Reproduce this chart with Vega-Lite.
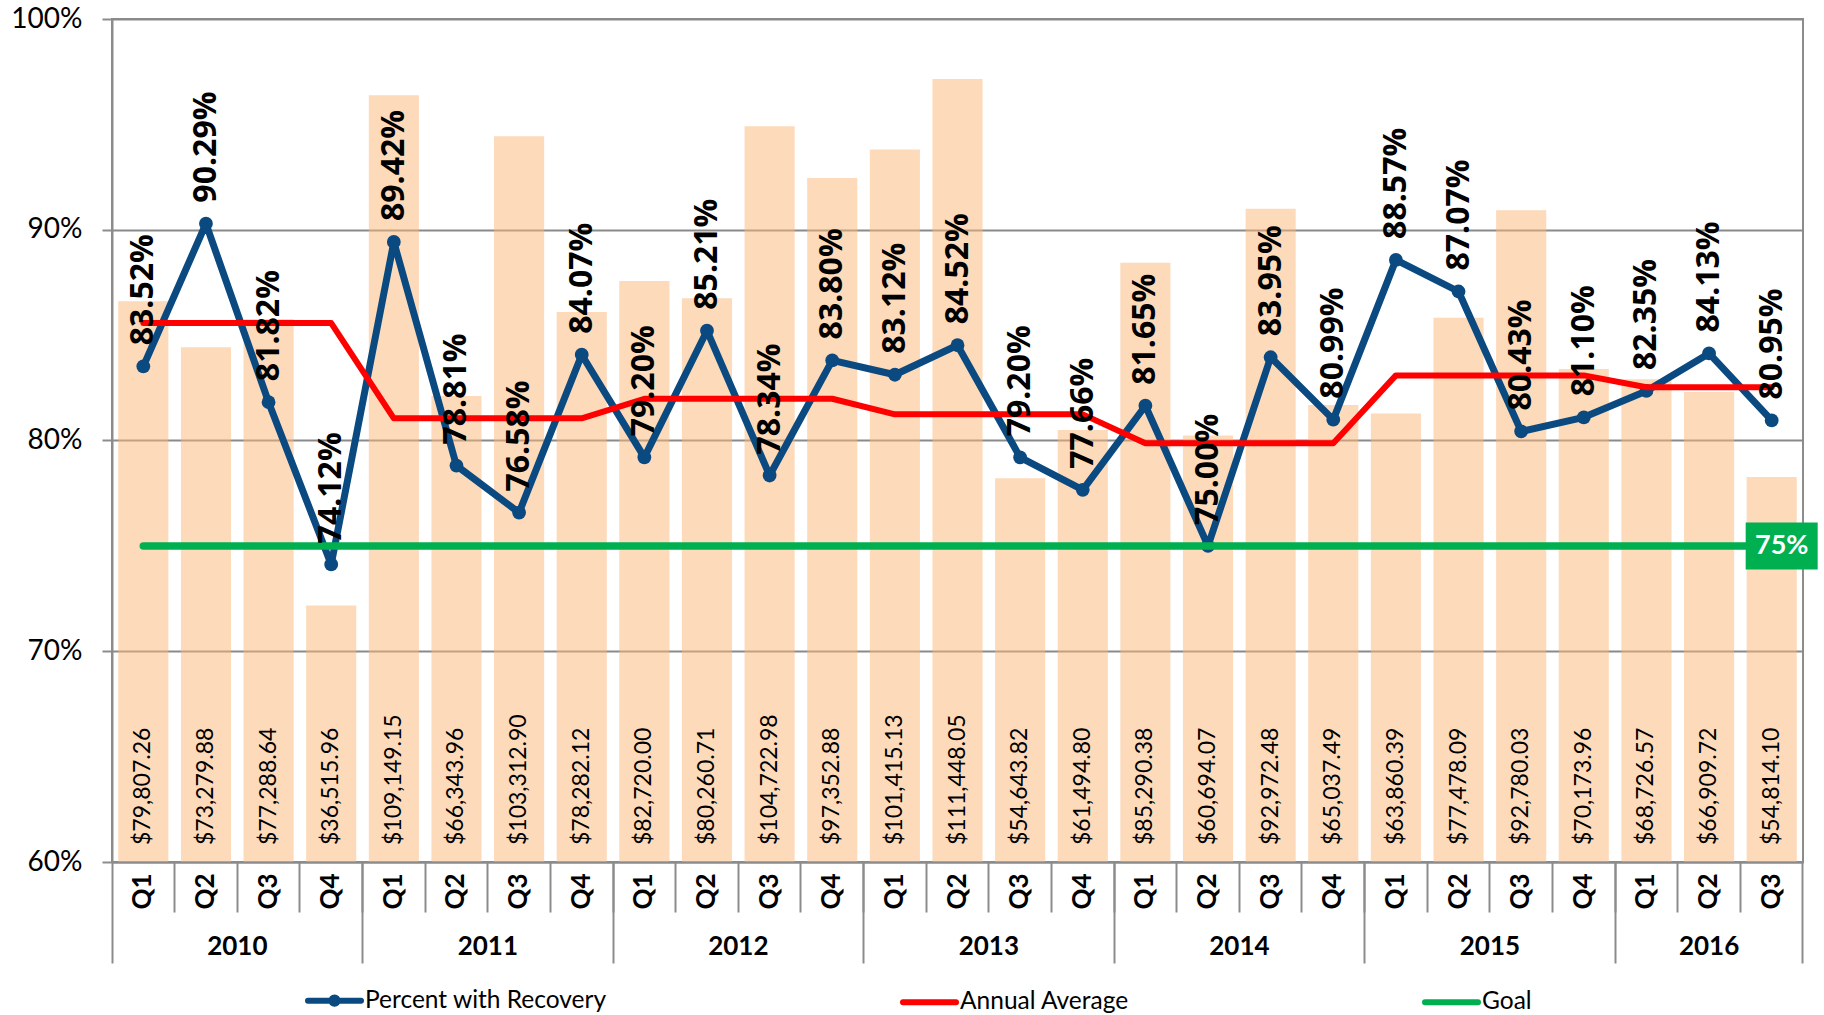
{
  "$schema": "https://vega.github.io/schema/vega-lite/v6.json",
  "width": 1691,
  "height": 843,
  "autosize": {"type": "none"},
  "padding": {"left": 112, "top": 19, "right": 21, "bottom": 153},
  "config": {
    "font": "Lato",
    "view": {"stroke": "#8c8c8c", "strokeWidth": 2},
    "axis": {
      "domainColor": "#8c8c8c", "domainWidth": 2,
      "tickColor": "#8c8c8c", "tickWidth": 2,
      "gridColor": "#8a8a8a", "gridWidth": 2,
      "labelColor": "#000000", "labelFont": "Lato"
    }
  },
  "datasets": {
    "main": [
      {"period": "2010 Q1", "amount": 79807.26, "pct": 0.8352, "avg": 0.8557, "goal": 0.75},
      {"period": "2010 Q2", "amount": 73279.88, "pct": 0.9029, "avg": 0.8557, "goal": 0.75},
      {"period": "2010 Q3", "amount": 77288.64, "pct": 0.8182, "avg": 0.8557, "goal": 0.75},
      {"period": "2010 Q4", "amount": 36515.96, "pct": 0.7412, "avg": 0.8557, "goal": 0.75},
      {"period": "2011 Q1", "amount": 109149.15, "pct": 0.8942, "avg": 0.8105, "goal": 0.75},
      {"period": "2011 Q2", "amount": 66343.96, "pct": 0.7881, "avg": 0.8105, "goal": 0.75},
      {"period": "2011 Q3", "amount": 103312.90, "pct": 0.7658, "avg": 0.8105, "goal": 0.75},
      {"period": "2011 Q4", "amount": 78282.12, "pct": 0.8407, "avg": 0.8105, "goal": 0.75},
      {"period": "2012 Q1", "amount": 82720.00, "pct": 0.7920, "avg": 0.8198, "goal": 0.75},
      {"period": "2012 Q2", "amount": 80260.71, "pct": 0.8521, "avg": 0.8198, "goal": 0.75},
      {"period": "2012 Q3", "amount": 104722.98, "pct": 0.7834, "avg": 0.8198, "goal": 0.75},
      {"period": "2012 Q4", "amount": 97352.88, "pct": 0.8380, "avg": 0.8198, "goal": 0.75},
      {"period": "2013 Q1", "amount": 101415.13, "pct": 0.8312, "avg": 0.8124, "goal": 0.75},
      {"period": "2013 Q2", "amount": 111448.05, "pct": 0.8452, "avg": 0.8124, "goal": 0.75},
      {"period": "2013 Q3", "amount": 54643.82, "pct": 0.7920, "avg": 0.8124, "goal": 0.75},
      {"period": "2013 Q4", "amount": 61494.80, "pct": 0.7766, "avg": 0.8124, "goal": 0.75},
      {"period": "2014 Q1", "amount": 85290.38, "pct": 0.8165, "avg": 0.7987, "goal": 0.75},
      {"period": "2014 Q2", "amount": 60694.07, "pct": 0.7500, "avg": 0.7987, "goal": 0.75},
      {"period": "2014 Q3", "amount": 92972.48, "pct": 0.8395, "avg": 0.7987, "goal": 0.75},
      {"period": "2014 Q4", "amount": 65037.49, "pct": 0.8099, "avg": 0.7987, "goal": 0.75},
      {"period": "2015 Q1", "amount": 63860.39, "pct": 0.8857, "avg": 0.8309, "goal": 0.75},
      {"period": "2015 Q2", "amount": 77478.09, "pct": 0.8707, "avg": 0.8309, "goal": 0.75},
      {"period": "2015 Q3", "amount": 92780.03, "pct": 0.8043, "avg": 0.8309, "goal": 0.75},
      {"period": "2015 Q4", "amount": 70173.96, "pct": 0.8110, "avg": 0.8309, "goal": 0.75},
      {"period": "2016 Q1", "amount": 68726.57, "pct": 0.8235, "avg": 0.8253, "goal": 0.75},
      {"period": "2016 Q2", "amount": 66909.72, "pct": 0.8413, "avg": 0.8253, "goal": 0.75},
      {"period": "2016 Q3", "amount": 54814.10, "pct": 0.8095, "avg": 0.8253, "goal": 0.75}
    ]
  },
  "data": {"name": "main"},
  "layer": [
    {
      "mark": {"type": "bar", "width": {"band": 0.8}, "color": "#FBB575", "opacity": 0.5},
      "encoding": {
        "x": {
          "field": "period", "type": "nominal", "sort": null,
          "scale": {"paddingInner": 0, "paddingOuter": 0},
          "axis": {
            "orient": "bottom", "title": null, "bandPosition": 0,
            "labelExpr": "split(datum.label, ' ')[1]",
            "labelAngle": 270, "labelFontSize": 26, "labelFontWeight": "bold",
            "labelOverlap": false, "labelBound": false, "labelFlush": false,
            "tickSize": {"condition": {"test": "datum.value == '2010 Q1'", "value": 101}, "value": 50},
            "labelPadding": {"condition": {"test": "datum.value == '2010 Q1'", "value": -90}, "value": -39},
            "grid": false, "domain": true
          }
        },
        "y": {"field": "amount", "type": "quantitative", "scale": {"domain": [0, 120000]}, "axis": null}
      }
    },
    {
      "mark": {"type": "text", "angle": 270, "align": "left", "baseline": "middle", "dx": 17, "fontSize": 23, "color": "#000000"},
      "encoding": {
        "x": {"field": "period", "type": "nominal", "sort": null, "axis": null},
        "y": {"datum": 0, "type": "quantitative", "scale": {"domain": [0, 120000]}, "axis": null},
        "text": {"field": "amount", "type": "quantitative", "format": "$,.2f"}
      }
    },
    {
      "mark": {"type": "line", "strokeWidth": 7, "strokeCap": "round", "strokeJoin": "round"},
      "encoding": {
        "x": {
          "field": "period", "type": "nominal", "sort": null,
          "axis": {
            "orient": "bottom", "title": null,
            "values": ["2010 Q4", "2011 Q4", "2012 Q4", "2013 Q4", "2014 Q4", "2015 Q4", "2016 Q3"],
            "bandPosition": 1, "tickSize": 101,
            "labelExpr": "slice(datum.label, 0, 4)",
            "labelAngle": 0, "labelAlign": "center", "labelBaseline": "top",
            "labelPadding": -30,
            "labelOffset": {"condition": {"test": "datum.value == '2016 Q3'", "value": -62.6}, "value": -93.9},
            "labelFontSize": 26, "labelFontWeight": "bold",
            "labelOverlap": false, "labelBound": false, "labelFlush": false,
            "domain": false, "grid": false
          }
        },
        "y": {
          "field": "pct", "type": "quantitative",
          "scale": {"domain": [0.6, 1.0], "zero": false, "nice": false},
          "axis": {
            "orient": "left", "title": null, "values": [0.6, 0.7, 0.8, 0.9, 1.0],
            "format": ".0%", "tickSize": 10, "labelPadding": 20, "labelFontSize": 28,
            "grid": true, "domain": true
          }
        },
        "color": {
          "datum": "Percent with Recovery",
          "scale": {"domain": ["Percent with Recovery", "Annual Average", "Goal"], "range": ["#0B4A80", "#FF0000", "#00B050"]},
          "legend": {
            "title": null, "orient": "none", "legendX": 193, "legendY": 952,
            "direction": "horizontal", "columns": 3, "columnPadding": 284,
            "padding": 0, "rowPadding": 0,
            "symbolType": "M-1,0L1,0", "symbolSize": 2809, "symbolStrokeWidth": 6,
            "labelFontSize": 24.5, "labelOffset": 1, "labelLimit": 600, "labelColor": "#000000",
            "encode": {
              "symbols": {
                "update": {
                  "shape": {"signal": "datum.value === 'Percent with Recovery' ? 'M-1,0L1,0M0.12,0A0.12,0.12 0 1,1 -0.12,0A0.12,0.12 0 1,1 0.12,0' : 'M-1,0L1,0'"},
                  "strokeCap": {"value": "round"}
                }
              }
            }
          }
        }
      }
    },
    {
      "mark": {"type": "point", "filled": true, "size": 190, "color": "#0B4A80", "opacity": 1},
      "encoding": {
        "x": {"field": "period", "type": "nominal", "sort": null, "axis": null},
        "y": {"field": "pct", "type": "quantitative", "scale": {"domain": [0.6, 1.0], "zero": false, "nice": false}, "axis": null}
      }
    },
    {
      "mark": {"type": "line", "strokeWidth": 6, "strokeCap": "round", "strokeJoin": "round"},
      "encoding": {
        "x": {"field": "period", "type": "nominal", "sort": null, "axis": null},
        "y": {"field": "avg", "type": "quantitative", "scale": {"domain": [0.6, 1.0], "zero": false, "nice": false}, "axis": null},
        "color": {"datum": "Annual Average"}
      }
    },
    {
      "mark": {"type": "line", "strokeWidth": 7.5, "strokeCap": "round"},
      "encoding": {
        "x": {"field": "period", "type": "nominal", "sort": null, "axis": null},
        "y": {"field": "goal", "type": "quantitative", "scale": {"domain": [0.6, 1.0], "zero": false, "nice": false}, "axis": null},
        "color": {"datum": "Goal"}
      }
    },
    {
      "mark": {"type": "text", "angle": 270, "align": "left", "baseline": "middle", "dx": 21, "font": "Open Sans", "fontSize": 32, "fontWeight": "bold", "color": "#000000"},
      "encoding": {
        "x": {"field": "period", "type": "nominal", "sort": null, "axis": null},
        "y": {"field": "pct", "type": "quantitative", "scale": {"domain": [0.6, 1.0], "zero": false, "nice": false}, "axis": null},
        "text": {"field": "pct", "type": "quantitative", "format": ".2%"}
      }
    },
    {
      "transform": [{"filter": "datum.period == '2016 Q3'"}],
      "mark": {"type": "point", "filled": true, "opacity": 1, "color": "#00B050", "size": 2209, "xOffset": 10, "shape": "M-1.532,-1L1.532,-1L1.532,1L-1.532,1Z"},
      "encoding": {
        "x": {"field": "period", "type": "nominal", "sort": null, "axis": null},
        "y": {"field": "goal", "type": "quantitative", "scale": {"domain": [0.6, 1.0], "zero": false, "nice": false}, "axis": null}
      }
    },
    {
      "transform": [{"filter": "datum.period == '2016 Q3'"}],
      "mark": {"type": "text", "align": "center", "baseline": "middle", "dx": 10, "fontSize": 27, "fontWeight": "bold", "color": "#FFFFFF"},
      "encoding": {
        "x": {"field": "period", "type": "nominal", "sort": null, "axis": null},
        "y": {"field": "goal", "type": "quantitative", "scale": {"domain": [0.6, 1.0], "zero": false, "nice": false}, "axis": null},
        "text": {"field": "goal", "type": "quantitative", "format": ".0%"}
      }
    }
  ],
  "resolve": {"scale": {"y": "independent"}, "axis": {"x": "independent"}}
}
